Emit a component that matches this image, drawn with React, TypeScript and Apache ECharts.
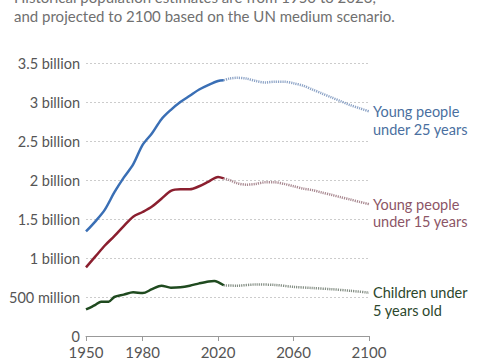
import React, { useEffect, useRef } from "react";
import * as echarts from "echarts";

const histYears = [1950, 1955, 1960, 1965, 1970, 1975, 1980, 1985, 1990, 1995, 2000, 2005, 2010, 2015, 2020, 2023];
const under25Hist = [1.34, 1.47, 1.62, 1.84, 2.03, 2.2, 2.45, 2.6, 2.78, 2.9, 3.0, 3.08, 3.16, 3.22, 3.27, 3.28];
const under15Hist = [0.88, 1.02, 1.16, 1.28, 1.41, 1.53, 1.59, 1.66, 1.76, 1.86, 1.88, 1.88, 1.92, 1.98, 2.04, 2.02];

const u5Years = [1950, 1955, 1958, 1962, 1965, 1970, 1975, 1980, 1985, 1990, 1995, 2000, 2005, 2010, 2015, 2018, 2020, 2023];
const under5Hist = [0.34, 0.4, 0.44, 0.44, 0.5, 0.53, 0.56, 0.55, 0.6, 0.645, 0.62, 0.625, 0.645, 0.675, 0.7, 0.705, 0.69, 0.65];

const projYears = [2023, 2026, 2030, 2035, 2040, 2045, 2050, 2055, 2060, 2065, 2070, 2075, 2080, 2085, 2090, 2095, 2100];
const under25Proj = [3.28, 3.3, 3.31, 3.3, 3.27, 3.25, 3.26, 3.26, 3.24, 3.21, 3.16, 3.11, 3.06, 3.01, 2.96, 2.92, 2.88];
const under15Proj = [2.02, 2.0, 1.96, 1.94, 1.95, 1.97, 1.97, 1.95, 1.92, 1.89, 1.87, 1.84, 1.81, 1.78, 1.75, 1.72, 1.69];
const u5ProjYears = [2023, 2030, 2040, 2050, 2060, 2070, 2080, 2090, 2100];
const under5Proj = [0.65, 0.645, 0.66, 0.655, 0.63, 0.615, 0.6, 0.58, 0.555];

const xTicks = [1950, 1980, 2020, 2060, 2100];
const seriesLabels = ["Young people\nunder 25 years", "Young people\nunder 15 years", "Children under\n5 years old"];
const subtitleLines = [
  "Historical population estimates are from 1950 to 2023,",
  "and projected to 2100 based on the UN medium scenario.",
];

const zip = (xs: number[], ys: number[]) => xs.map((x, i) => [x, ys[i]]);

export default function App() {
  const ref = useRef<HTMLDivElement>(null);
  useEffect(() => {
    const chart = echarts.init(ref.current!, null, { renderer: "svg" });
    const font = "Lato, 'Noto Sans', sans-serif";
    const hist = (data: number[][], color: string) => ({
      type: "line",
      data,
      smooth: 0.3,
      showSymbol: false,
      lineStyle: { color, width: 2.5 },
      z: 3,
    });
    const proj = (data: number[][], color: string, label: string, labelColor: string) => ({
      type: "line",
      data,
      smooth: 0.3,
      showSymbol: false,
      lineStyle: { color, width: 2.5, type: [1.2, 1] },
      endLabel: {
        show: true,
        formatter: label,
        color: labelColor,
        fontFamily: font,
        fontSize: 14.5,
        lineHeight: 17.5,
        distance: 4,
        offset: [0, 9],
      },
      z: 2,
    });
    chart.setOption({
      animation: false,
      grid: { left: 86, right: 111, top: 63, bottom: 24 },
      xAxis: {
        type: "value",
        min: 1950,
        max: 2100,
        axisLine: { show: true, lineStyle: { color: "#999", width: 1 } },
        axisTick: { show: true, customValues: xTicks, length: 5, lineStyle: { color: "#999" } },
        axisLabel: {
          customValues: xTicks,
          formatter: (v: number) => String(v),
          color: "#555",
          fontFamily: font,
          fontSize: 15,
          margin: 8,
        },
        splitLine: { show: false },
      },
      yAxis: {
        type: "value",
        min: 0,
        max: 3.5,
        interval: 0.5,
        axisLine: { show: false },
        axisTick: { show: false },
        axisLabel: {
          color: "#555",
          fontFamily: font,
          fontSize: 14.5,
          margin: 6,
          formatter: (v: number) => (v === 0 ? "0" : v < 1 ? `${Math.round(v * 1000)} million` : `${v} billion`),
        },
        splitLine: { lineStyle: { color: "#ccc", type: [2, 2] } },
      },
      graphic: subtitleLines.map((t, i) => ({
        type: "text",
        x: 14,
        y: -3 + i * 18.5,
        style: { text: t, fill: "#707070", font: `15px ${font}`, verticalAlign: "middle" },
      })),
      series: [
        hist(zip(histYears, under25Hist), "#3a6fb5"),
        proj(zip(projYears, under25Proj), "#8ca3c6", seriesLabels[0], "#4a6fa0"),
        hist(zip(histYears, under15Hist), "#8b1f2f"),
        proj(zip(projYears, under15Proj), "#a88890", seriesLabels[1], "#8c5566"),
        hist(zip(u5Years, under5Hist), "#1f4a1f"),
        proj(zip(u5ProjYears, under5Proj), "#858f85", seriesLabels[2], "#2c472c"),
      ],
    });
    return () => chart.dispose();
  }, []);
  return <div ref={ref} style={{ position: "absolute", left: 0, top: 0, width: 480, height: 360 }} />;
}
